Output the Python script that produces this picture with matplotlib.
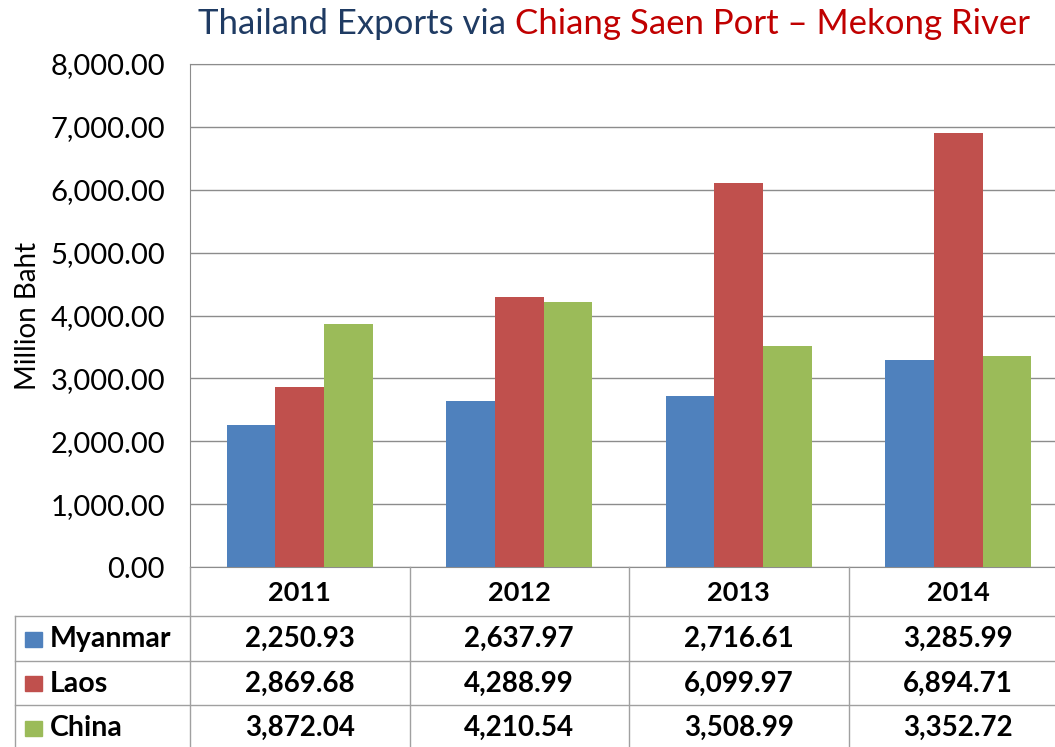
import numpy as np
import matplotlib
matplotlib.use('Agg')
import matplotlib.pyplot as plt
from matplotlib.patches import Rectangle

plt.rcParams['font.family'] = ['Lato', 'DejaVu Sans']

# data
years = ['2011', '2012', '2013', '2014']
countries = ['Myanmar', 'Laos', 'China']
myanmar = [2250.93, 2637.97, 2716.61, 3285.99]
laos = [2869.68, 4288.99, 6099.97, 6894.71]
china = [3872.04, 4210.54, 3508.99, 3352.72]
series = [myanmar, laos, china]
colors = ['#4F81BD', '#C0504D', '#9BBB59']
grid_col = '#8C8C8C'

W, H = 1055, 747


def px(l, t, r, b):
    # pixel box -> figure fraction
    return [l / W, 1 - b / H, (r - l) / W, (b - t) / H]


fig = plt.figure(figsize=(W / 100, H / 100), dpi=100)

# main chart
ax = fig.add_axes(px(190, 64, 1068, 567))
x = np.arange(len(years))
bw = 0.222
for i, vals in enumerate(series):
    ax.bar(x + (i - 1) * bw, vals, width=bw, color=colors[i], zorder=3)
ax.set_xlim(-0.5, 3.5)
ax.set_ylim(0, 8000)
ax.set_yticks(np.arange(0, 8001, 1000))
ax.set_yticklabels(['{:,.2f}'.format(v) for v in np.arange(0, 8001, 1000)],
                   fontsize=21)
ax.tick_params(axis='y', length=0, pad=18)
ax.set_xticks([])
ax.yaxis.grid(True, color=grid_col, linewidth=1, zorder=0)
for s in ['left', 'top', 'bottom']:
    ax.spines[s].set_color(grid_col)
ax.spines['right'].set_visible(False)
ax.set_ylabel('Million Baht', fontsize=20)
ax.yaxis.set_label_coords(-0.17, 0.5)

# data table below the chart
cat_px = 219.5
x0 = -0.5 - 175 / cat_px
tab = fig.add_axes(px(15, 567, 1068, 749))
tab.set_xlim(x0, 3.5)
tab.set_ylim(182, 0)
tab.axis('off')
lc = '#A0A0A0'
row_y = [49, 93.5, 138, 182]
for y in row_y:
    tab.plot([x0, 3.5], [y, y], color=lc, lw=1, clip_on=False)
for xv in [-0.5, 0.5, 1.5, 2.5]:
    tab.plot([xv, xv], [0, 182], color=lc, lw=1, clip_on=False)
tab.plot([x0, x0], [49, 182], color=lc, lw=1, clip_on=False)

for i, yr in enumerate(years):
    tab.text(i, 26, yr, ha='center', va='center', fontsize=19.5,
             fontweight='bold')
for r, (name, vals) in enumerate(zip(countries, series)):
    yc = (row_y[r] + row_y[r + 1]) / 2 + 1
    tab.add_patch(Rectangle((x0 + 10 / cat_px, yc - 7.5), 17 / cat_px, 15,
                            color=colors[r], clip_on=False))
    tab.text(x0 + 35 / cat_px, yc, name, ha='left', va='center',
             fontsize=20.5, fontweight='bold')
    for i, v in enumerate(vals):
        tab.text(i, yc, '{:,.2f}'.format(v), ha='center', va='center',
                 fontsize=20, fontweight='bold')

# two-colour title
t1 = fig.text(198 / W, 1 - 34 / H, 'Thailand Exports via ', fontsize=25,
              color='#1F3B63', va='baseline')
fig.canvas.draw()
bb = t1.get_window_extent()
fig.text(bb.x1 / W, 1 - 34 / H, 'Chiang Saen Port \u2013 Mekong River',
         fontsize=25, color='#C00000', va='baseline')

fig.savefig('out.png', dpi=100)
